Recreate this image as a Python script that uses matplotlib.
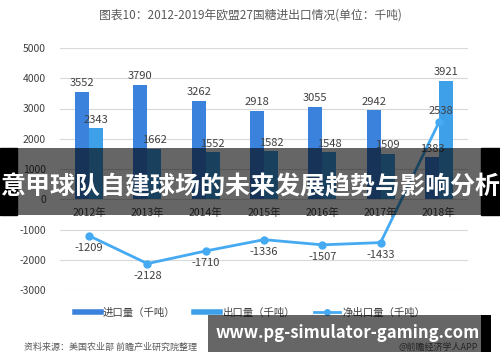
import matplotlib.pyplot as plt
import numpy as np
from matplotlib.patches import Rectangle
from matplotlib.lines import Line2D

plt.rcParams['font.family'] = ['Noto Sans CJK SC', 'DejaVu Sans']

years = ['2012年', '2013年', '2014年', '2015年', '2016年', '2017年', '2018年']
imports = [3552, 3790, 3262, 2918, 3055, 2942, 1383]
exports = [2343, 1662, 1552, 1582, 1548, 1509, 3921]
net = [-1209, -2128, -1710, -1336, -1507, -1433, 2538]
yticks = [-3000, -2000, -1000, 0, 1000, 2000, 3000, 4000, 5000]

c_imp = '#3b82dc'
c_exp = '#3fa0ea'
c_net = '#45aaf2'
txt = '#404040'

W, H = 500, 362
fig = plt.figure(figsize=(W / 100, H / 100), dpi=100)
ax = fig.add_axes([60 / W, 1 - 290 / H, 408 / W, 242 / H])

x = np.arange(len(years))
bw = 0.24
ax.bar(x - bw / 2, imports, bw, color=c_imp, zorder=2)
ax.bar(x + bw / 2, exports, bw, color=c_exp, zorder=2)
ax.plot(x, net, color=c_net, lw=2, marker='o', ms=5, zorder=3)

for i in range(len(years)):
    ax.text(i - bw / 2, imports[i] + 120, str(imports[i]), ha='center', va='bottom',
            fontsize=8, color=txt)
    ax.text(i + bw / 2, exports[i] + 120, str(exports[i]), ha='center', va='bottom',
            fontsize=8, color=txt)
    if net[i] < 0:
        ax.text(i, net[i] - 230, str(net[i]), ha='center', va='top', fontsize=8, color=txt)
    else:
        ax.text(i + 0.04, net[i] + 200, str(net[i]), ha='center', va='bottom',
                fontsize=8, color=txt)
    ax.text(i, -450, years[i], ha='center', va='center', fontsize=7.5, color=txt)

ax.set_xlim(-0.5, len(years) - 0.5)
ax.set_ylim(-3000, 5000)
ax.set_yticks(yticks)
ax.set_yticklabels([str(v) for v in yticks], fontsize=7.5, color=txt)
ax.set_xticks([])
ax.tick_params(axis='y', length=0, pad=10)
ax.grid(axis='y', color='#d9d9d9', lw=0.8, zorder=0)
for s in ax.spines.values():
    s.set_visible(False)

fig.text(0.5, 1 - 15 / H, '图表10：2012-2019年欧盟27国糖进出口情况(单位：千吨)',
         ha='center', va='center', fontsize=8.5, color='#595959')

handles = [Line2D([], [], color=c_imp, lw=4),
           Line2D([], [], color=c_exp, lw=4),
           Line2D([], [], color=c_net, lw=2, marker='o', ms=4)]
fig.legend(handles, ['进口量（千吨）', '出口量（千吨）', '净出口量（千吨）'],
           loc='center', bbox_to_anchor=(0.5, 1 - 313 / H), ncol=3, frameon=False,
           fontsize=7.5, handlelength=2.5, columnspacing=1.8, handletextpad=0.2,
           labelcolor=txt)

fig.text(24 / W, 1 - 347 / H, '资料来源：美国农业部 前瞻产业研究院整理', ha='left',
         va='center', fontsize=6.5, color='#595959')
fig.text(478 / W, 1 - 347 / H, '@前瞻经济学人APP', ha='right', va='center',
         fontsize=6.5, color='#595959')

# overlay banner
fig.add_artist(Rectangle((0, 1 - 215 / H), 17 / W, 67 / H, transform=fig.transFigure,
                         color='black', zorder=10))
fig.add_artist(Rectangle((481 / W, 1 - 215 / H), 19 / W, 67 / H, transform=fig.transFigure,
                         color='black', zorder=10))
fig.add_artist(Rectangle((17 / W, 1 - 215 / H), 464 / W, 67 / H, transform=fig.transFigure,
                         color='black', alpha=0.6, lw=0, zorder=10))
fig.text(0.5, 1 - 187 / H, '意甲球队自建球场的未来发展趋势与影响分析', ha='center',
         va='center', fontsize=18, fontweight='bold', color='white', zorder=11)

# bottom url band
fig.add_artist(Rectangle((208 / W, 1 - 352 / H), 273 / W, 37 / H, transform=fig.transFigure,
                         color='black', alpha=0.6, lw=0, zorder=10))
fig.add_artist(Rectangle((481 / W, 1 - 352 / H), 10 / W, 37 / H, transform=fig.transFigure,
                         color='black', lw=0, zorder=10))
fig.text(348 / W, 1 - 333 / H, 'www.pg-simulator-gaming.com', ha='center', va='center',
         fontsize=12, fontweight='bold', color='white', zorder=11)

fig.savefig('out.png', dpi=100)
